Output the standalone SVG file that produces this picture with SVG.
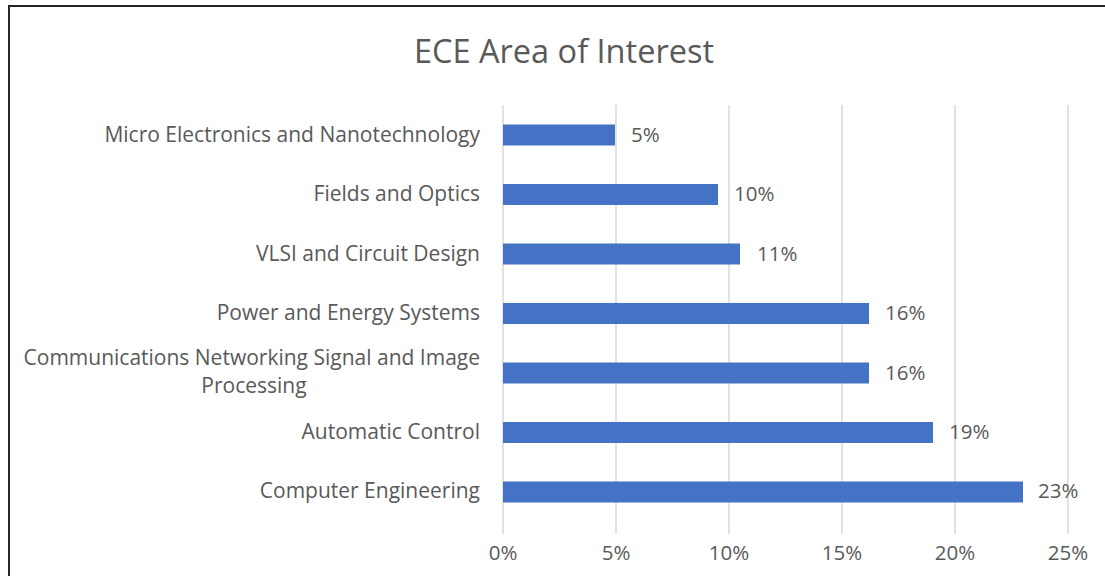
<svg xmlns="http://www.w3.org/2000/svg" width="1105" height="576" viewBox="0 0 1105 576">
<style>
.t{font-family:"Open Sans","Noto Sans","DejaVu Sans",sans-serif;fill:#595959;}
.cat{font-size:21px;text-anchor:end;}
.val{font-size:20.5px;}
.ax{font-size:20.5px;text-anchor:middle;}
.grid{stroke:#d9d9d9;stroke-width:1.5;}
.bar{fill:#4472c4;}
</style>
<rect x="0" y="0" width="1105" height="576" fill="#fff"/>
<rect x="9" y="6" width="1110" height="590" fill="none" stroke="#262626" stroke-width="2"/>
<text class="t" x="564" y="63" font-size="32.5" text-anchor="middle">ECE Area of Interest</text>
<g id="grid">
<line class="grid" x1="503" y1="105" x2="503" y2="534"/>
<line class="grid" x1="616" y1="105" x2="616" y2="534"/>
<line class="grid" x1="729" y1="105" x2="729" y2="534"/>
<line class="grid" x1="842" y1="105" x2="842" y2="534"/>
<line class="grid" x1="955" y1="105" x2="955" y2="534"/>
<line class="grid" x1="1068" y1="105" x2="1068" y2="534"/>
</g>
<g id="axis">
<text class="t ax" x="503" y="560">0%</text>
<text class="t ax" x="616" y="560">5%</text>
<text class="t ax" x="729" y="560">10%</text>
<text class="t ax" x="842" y="560">15%</text>
<text class="t ax" x="955" y="560">20%</text>
<text class="t ax" x="1068" y="560">25%</text>
</g>
<g id="micro">
<rect class="bar" x="503" y="124.5" width="112" height="21"/>
<text class="t cat" x="480" y="142">Micro Electronics and Nanotechnology</text>
<text class="t val" x="631" y="142">5%</text>
</g>
<g id="fields">
<rect class="bar" x="503" y="184" width="215" height="21"/>
<text class="t cat" x="480" y="201">Fields and Optics</text>
<text class="t val" x="734" y="201">10%</text>
</g>
<g id="vlsi">
<rect class="bar" x="503" y="243.5" width="237" height="21"/>
<text class="t cat" x="480" y="261">VLSI and Circuit Design</text>
<text class="t val" x="757" y="261">11%</text>
</g>
<g id="power">
<rect class="bar" x="503" y="303" width="366" height="21"/>
<text class="t cat" x="480" y="320">Power and Energy Systems</text>
<text class="t val" x="885" y="320">16%</text>
</g>
<g id="comm">
<rect class="bar" x="503" y="362.5" width="366" height="21"/>
<text class="t cat" x="480" y="365">Communications Networking Signal and Image</text>
<text class="t cat" x="254" y="393" style="text-anchor:middle">Processing</text>
<text class="t val" x="885" y="380">16%</text>
</g>
<g id="auto">
<rect class="bar" x="503" y="422" width="430" height="21"/>
<text class="t cat" x="480" y="439">Automatic Control</text>
<text class="t val" x="949" y="439">19%</text>
</g>
<g id="computer">
<rect class="bar" x="503" y="481.5" width="520" height="21"/>
<text class="t cat" x="480" y="498">Computer Engineering</text>
<text class="t val" x="1038" y="498">23%</text>
</g>
<g id="connectors"/>
</svg>
